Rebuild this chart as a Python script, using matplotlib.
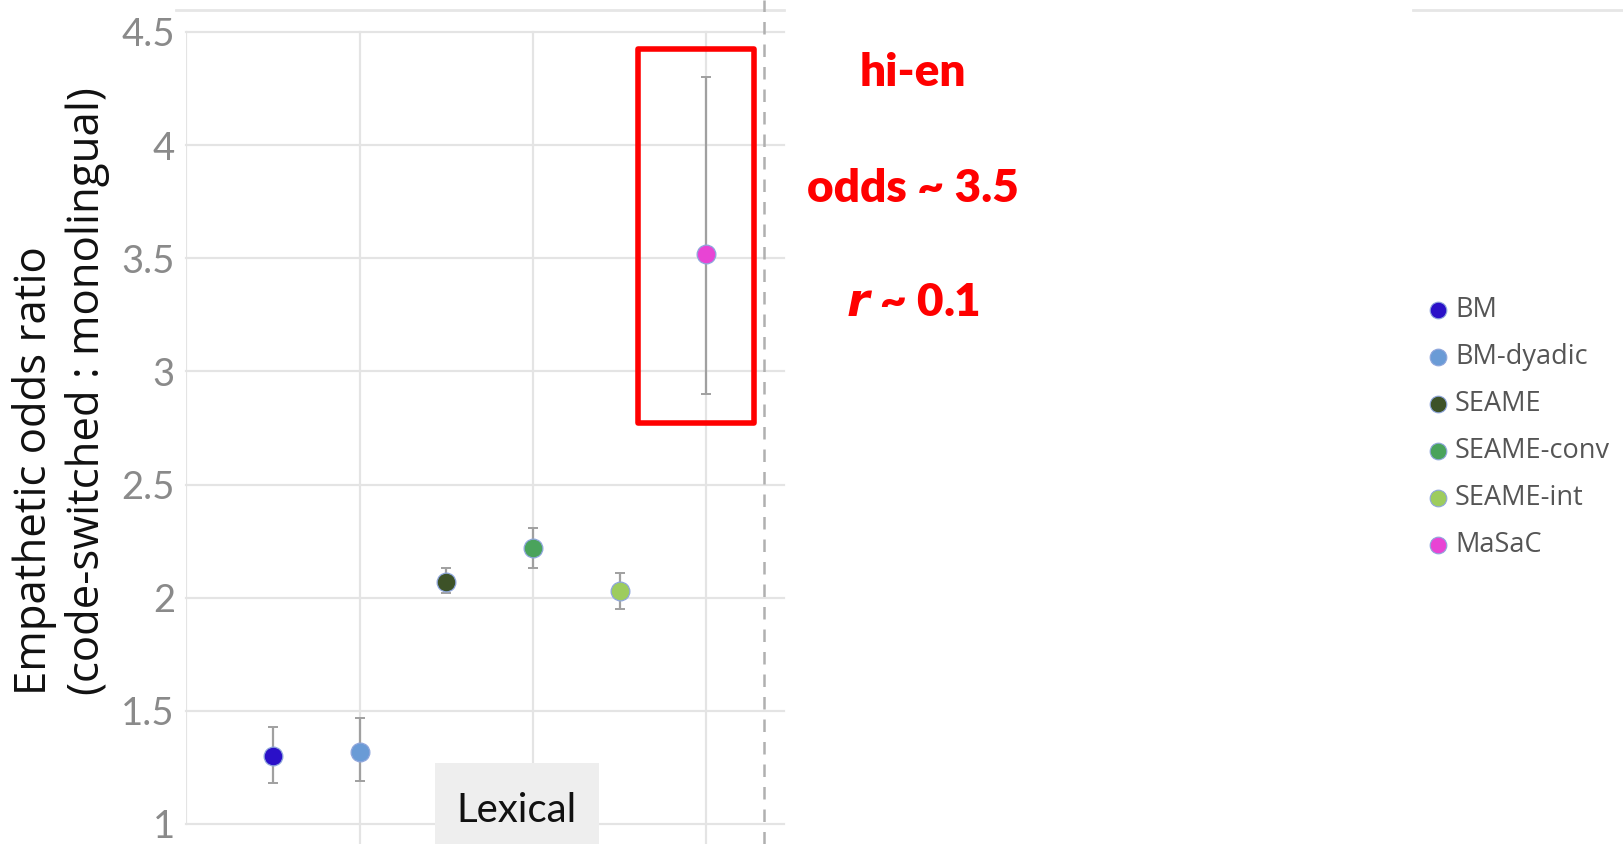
import matplotlib
matplotlib.use("Agg")
import matplotlib.pyplot as plt
from matplotlib.patches import Rectangle
from matplotlib.lines import Line2D

# Corpora and their empathetic odds ratios with confidence intervals
corpora = ["BM", "BM-dyadic", "SEAME", "SEAME-conv", "SEAME-int", "MaSaC"]
odds = [1.30, 1.32, 2.07, 2.22, 2.03, 3.52]
ci_low = [1.18, 1.19, 2.02, 2.13, 1.95, 2.90]
ci_high = [1.43, 1.47, 2.13, 2.31, 2.11, 4.30]
colors = ["#2a10c8", "#6a9bd6", "#3d5228", "#4aa35c", "#9dcc5e", "#e844d4"]
x_pos = [0.5, 1.0, 1.5, 2.0, 2.5, 3.0]

y_ticks = [1, 1.5, 2, 2.5, 3, 3.5, 4, 4.5]
y_tick_labels = ["1", "1.5", "2", "2.5", "3", "3.5", "4", "4.5"]

W, H = 1623, 844
fig = plt.figure(figsize=(W / 100, H / 100), dpi=100)

# axes in pixel geometry
ax_left, ax_right = 186, 784
y_top_px, y_bot_px = 32, 824          # positions of 4.5 and 1
px_per_unit_y = (y_bot_px - y_top_px) / 3.5
px_per_unit_x = 173.5
ax = fig.add_axes([ax_left / W, 0, (ax_right - ax_left) / W, 1])
ymin = 1 - (H - y_bot_px) / px_per_unit_y
ymax = 4.5 + y_top_px / px_per_unit_y
xmax = (ax_right - ax_left) / px_per_unit_x
ax.set_xlim(0, xmax)
ax.set_ylim(ymin, ymax)
for s in ax.spines.values():
    s.set_visible(False)
ax.set_xticks([])
ax.set_yticks(y_ticks)
ax.set_yticklabels(y_tick_labels, fontfamily="Lato", fontsize=27.5, color="#8a8a8a")
ax.tick_params(axis="y", length=0, pad=8)

grid_c = "#e4e4e4"
# horizontal grid
for yv in y_ticks:
    ax.plot([0, xmax], [yv, yv], color=grid_c, lw=1.6, zorder=0, clip_on=False)
# left axis line
ax.plot([0, 0], [1, 4.5], color=grid_c, lw=1.6, zorder=0)
# vertical grid
for xv in [1, 2, 3]:
    ax.plot([xv, xv], [ymin, 4.5], color=grid_c, lw=1.6, zorder=0)
# faint top rule
top_rule = 4.5 + 22 / px_per_unit_y
ax.plot([-10 / px_per_unit_x, xmax], [top_rule, top_rule], color="#e6e6e6", lw=2, clip_on=False, zorder=0)
fig.add_artist(Line2D([1413 / W, 1], [1 - 10 / H, 1 - 10 / H], color="#e6e6e6", lw=2))

# dashed separator
ax.plot([3.33, 3.33], [ymin, ymax], color="#b0b0b0", lw=1.8, ls=(0, (5, 4)), zorder=1)

# error bars and points
for xv, m, lo, hi, c in zip(x_pos, odds, ci_low, ci_high, colors):
    ax.errorbar([xv], [m], yerr=[[m - lo], [hi - m]], fmt="none", ecolor="#a0a0a0",
                elinewidth=1.6, capsize=3.5, capthick=1.4, zorder=2)
    ax.plot([xv], [m], "o", color=c, markersize=13.5, markeredgecolor="#8fa6dc",
            markeredgewidth=0.9, zorder=3)

# highlight box around MaSaC
ax.add_patch(Rectangle((2.605, 2.77), 3.275 - 2.605, 4.425 - 2.77, fill=False,
                       edgecolor="#ff0000", lw=4, zorder=4, joinstyle="round"))

# "Lexical" facet label
lx0 = (435 - ax_left) / px_per_unit_x
lx1 = (599 - ax_left) / px_per_unit_x
ly0 = ymin
ly1 = 1 - (763 - y_bot_px) / px_per_unit_y
ax.add_patch(Rectangle((lx0, ly0), lx1 - lx0, ly1 - ly0, facecolor="#eeeeee",
                       edgecolor="none", zorder=5, clip_on=False))
ax.text((lx0 + lx1) / 2, 1 - (810 - y_bot_px) / px_per_unit_y, "Lexical",
        ha="center", va="center", fontsize=29, fontfamily="Lato", color="#111111", zorder=6)

# y-axis label (lines aligned at their start)
fig.text(61 / W, 1 - 391 / H, "Empathetic odds ratio\n(code-switched : monolingual)",
         rotation=90, ha="center", va="center", multialignment="left",
         fontsize=31.5, fontfamily="Open Sans", color="#111111", linespacing=1.22)

# red annotations
red = "#ff0000"
ann_kw = dict(ha="center", va="center", fontsize=33, fontweight="heavy",
              fontfamily="Lato", color=red)
fig.text(913 / W, 1 - 73 / H, "hi-en", **ann_kw)
fig.text(913 / W, 1 - 189 / H, "odds ~ 3.5", **ann_kw)
fig.text(913 / W, 1 - 303 / H, r"$\mathbfit{r}$ ~ 0.1", **ann_kw)

# legend
leg_y = [310, 357, 404, 451, 498, 545]
for name, c, yy in zip(corpora, colors, leg_y):
    fig.add_artist(Line2D([1438 / W], [1 - yy / H], marker="o", color=c, markersize=12,
                          markeredgecolor="#8fa6dc", markeredgewidth=0.8, linestyle="none"))
    fig.text(1455 / W, 1 - yy / H, name, ha="left", va="center", fontsize=19.5,
             fontfamily="Open Sans", color="#555555")

fig.savefig("out.png", dpi=100)
